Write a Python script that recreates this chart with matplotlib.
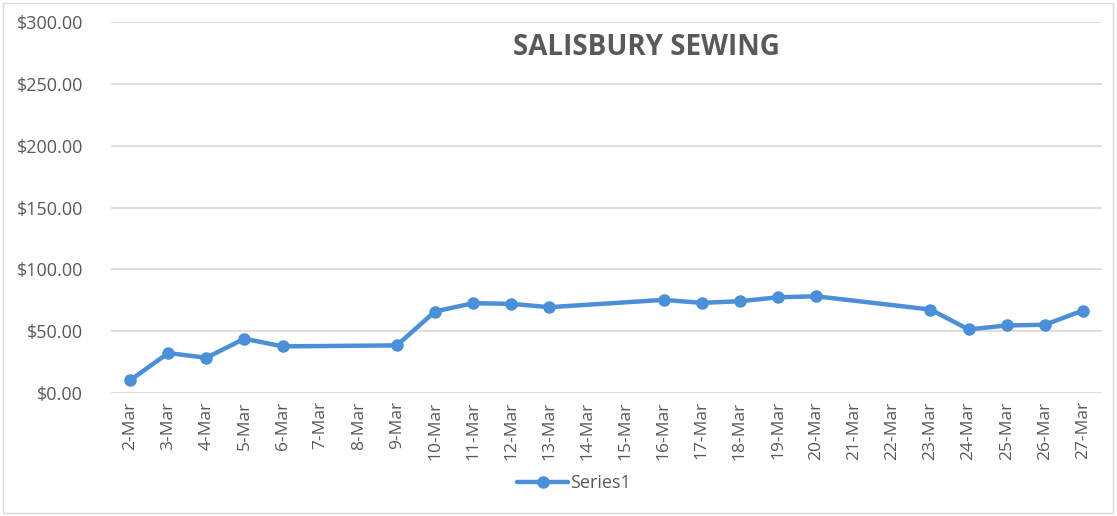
import matplotlib
matplotlib.use("Agg")
import matplotlib.pyplot as plt
import matplotlib.dates as mdates
from matplotlib.ticker import FuncFormatter, MultipleLocator
from matplotlib.patches import Rectangle
import datetime as dt

plt.rcParams['font.family'] = ['Open Sans', 'DejaVu Sans']

dates = ["2024-03-02", "2024-03-03", "2024-03-04", "2024-03-05", "2024-03-06",
         "2024-03-09", "2024-03-10", "2024-03-11", "2024-03-12", "2024-03-13",
         "2024-03-16", "2024-03-17", "2024-03-18", "2024-03-19", "2024-03-20",
         "2024-03-23", "2024-03-24", "2024-03-25", "2024-03-26", "2024-03-27"]
values = [10.2, 32.3, 28.5, 43.9, 37.7,
          38.5, 65.9, 72.6, 72.1, 69.4,
          75.3, 72.9, 74.2, 77.4, 78.2,
          67.5, 51.4, 54.6, 55.2, 66.7]
title = "SALISBURY SEWING"
series_name = "Series1"

x = [dt.datetime.strptime(d, "%Y-%m-%d") for d in dates]

fig = plt.figure(figsize=(11.17, 5.16), dpi=100)
ax = fig.add_axes([111/1117, 1 - 393/516, (1102 - 111)/1117, (393 - 22)/516])

line_color = "#4A8FD8"
ax.plot(x, values, color=line_color, linewidth=3.2, marker="o", markersize=8,
        markerfacecolor=line_color, markeredgecolor=line_color, label=series_name,
        solid_capstyle="round", zorder=3)

start = x[0] - dt.timedelta(hours=12)
end = x[-1] + dt.timedelta(hours=12)
ax.set_xlim(start, end)
ax.set_ylim(0, 300)
ax.yaxis.set_major_locator(MultipleLocator(50))
ax.yaxis.set_major_formatter(FuncFormatter(lambda v, p: f"${v:,.2f}"))
ax.xaxis.set_major_locator(mdates.DayLocator())
ax.xaxis.set_major_formatter(FuncFormatter(lambda v, p: f"{mdates.num2date(v).day}-Mar"))

ax.grid(axis="y", color="#D9D9D9", linewidth=1.2)
ax.set_axisbelow(True)
for s in ["top", "right", "left", "bottom"]:
    ax.spines[s].set_visible(False)
ax.tick_params(axis="both", length=0, colors="#595959")
ax.tick_params(axis="y", pad=20, labelsize=13)
ax.tick_params(axis="x", pad=6, labelsize=12.5)
for lbl in ax.get_xticklabels():
    lbl.set_rotation(90)

fig.text(646/1117, 1 - 48/516, title, ha="center", va="center",
         fontsize=20, fontweight="bold", color="#595959")

leg = fig.legend(loc="center", bbox_to_anchor=(574/1117, 1 - 483/516),
                 frameon=False, fontsize=13, handlelength=2.8, handletextpad=0.1)
for t in leg.get_texts():
    t.set_color("#595959")

fig.patches.append(Rectangle((3/1117, 3/516), 1110/1117, 510/516, transform=fig.transFigure,
                             fill=False, edgecolor="#D9D9D9", linewidth=1))

fig.savefig("out.png", dpi=100, facecolor="white")
